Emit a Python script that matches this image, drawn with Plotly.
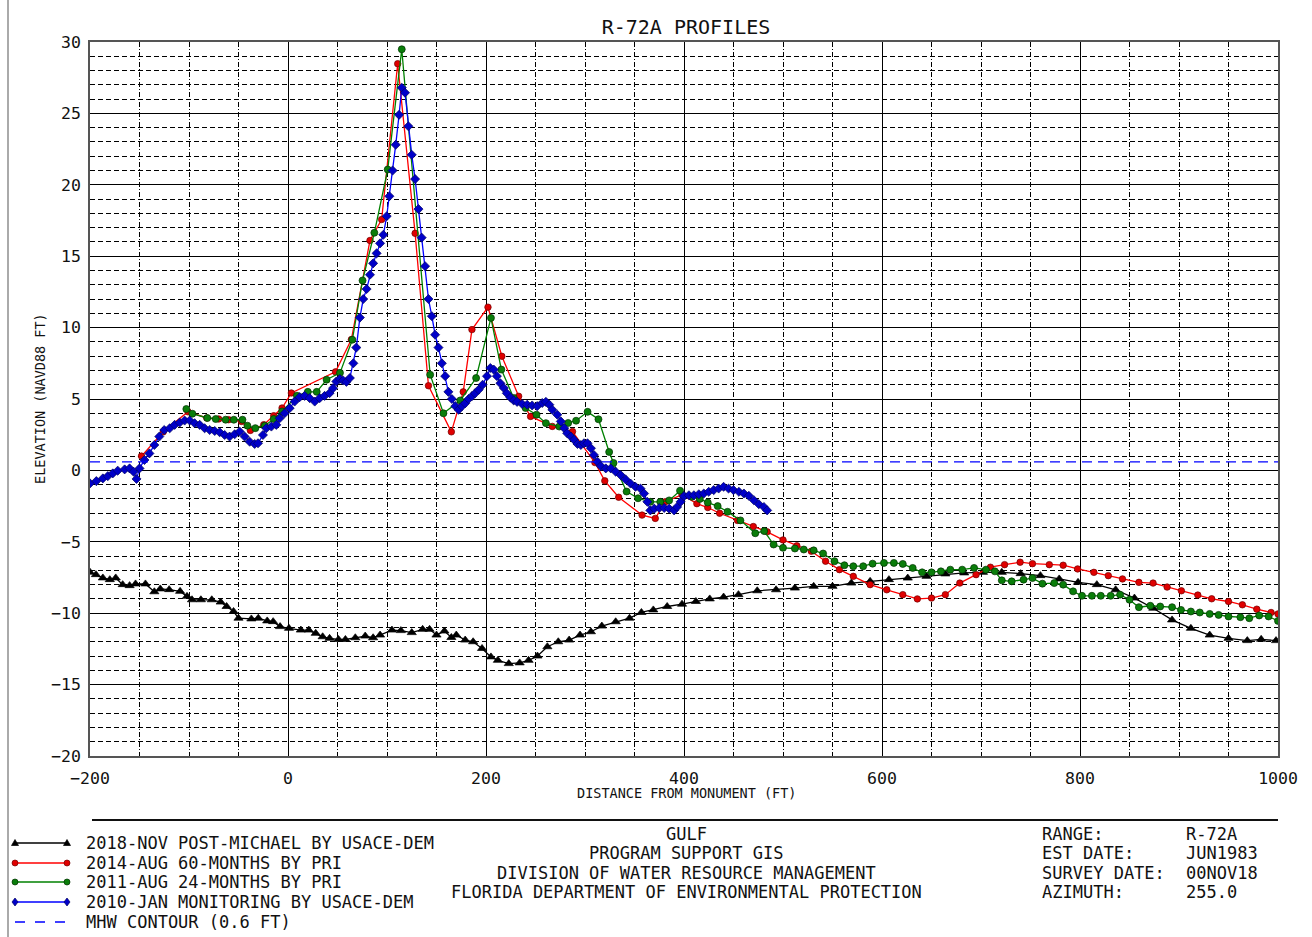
import plotly.graph_objects as go

# ---------------- data ----------------
black_x = [-200, -194, -187, -180, -174, -167, -160, -154, -144, -135, -129, -120, -109, -102, -97, -88, -77, -68,
           -62, -55, -50, -37, -30, -21, -15, -8, 1, 13, 21, 28, 35, 42, 51, 58, 68, 78, 86, 93, 105, 114, 125, 136,
           143, 150, 158, 165, 170, 179, 187, 196, 205, 212, 223, 234, 243, 252, 262, 273, 284, 295, 306, 317, 331,
           345, 357, 369, 383, 398, 412, 426, 440, 455, 474, 493, 512, 531, 550, 569, 588, 607, 626, 645, 664, 683,
           702, 721, 740, 760, 779, 798, 817, 836, 855, 874, 893, 912, 931, 950, 969, 983, 998]
black_y = [-7.13, -7.3, -7.53, -7.65, -7.53, -8.0, -8.07, -7.95, -7.95, -8.5, -8.3, -8.35, -8.47, -8.82, -9.06, -9.06,
           -9.06, -9.22, -9.53, -9.88, -10.35, -10.4, -10.35, -10.54, -10.59, -10.94, -11.06, -11.18, -11.18, -11.41,
           -11.65, -11.76, -11.84, -11.84, -11.72, -11.6, -11.72, -11.53, -11.18, -11.22, -11.36, -11.13, -11.13,
           -11.53, -11.25, -11.7, -11.53, -11.88, -12.0, -12.47, -13.06, -13.3, -13.53, -13.48, -13.3, -13.0, -12.35,
           -12.0, -11.88, -11.53, -11.3, -10.9, -10.6, -10.35, -9.95, -9.77, -9.53, -9.37, -9.18, -9.0, -8.87, -8.7,
           -8.43, -8.36, -8.24, -8.12, -8.12, -7.89, -7.77, -7.65, -7.54, -7.42, -7.25, -7.18, -7.14, -7.14, -7.23,
           -7.37, -7.6, -7.84, -8.0, -8.36, -8.94, -9.65, -10.47, -11.06, -11.53, -11.76, -11.92, -11.83, -11.92]

red_x = [-148, -126, -101, -82, -70, -60, -47, -38, -24.5, -14.4, -6, 3.4, 48, 64, 82.8, 94.6, 110.8, 128.4, 141.9,
         165, 177, 185.8, 202, 216, 233, 245, 267, 287.4, 310, 320, 334, 357.6, 371, 381, 398, 413, 424, 436, 454,
         470, 484, 500, 514, 528.6, 543, 557, 571, 588, 604.8, 621, 635.7, 650, 664, 678.6, 695, 709.5, 723.8,
         739.5, 752, 769, 783, 797.6, 814, 828.6, 842.9, 859.5, 873.8, 888, 902.4, 919, 933, 950, 964, 978.6, 993,
         1000]
red_y = [1.0, 2.7, 4.1, 3.67, 3.6, 3.55, 3.43, 2.8, 3.2, 3.83, 4.37, 5.42, 6.9, 9.16, 16.1, 17.57, 28.48, 16.6, 5.93,
         2.7, 5.5, 9.86, 11.43, 7.99, 5.19, 3.78, 3.08, 2.72, 0.55, -0.73, -1.88, -3.13, -3.36, -2.2, -1.7, -2.33,
         -2.6, -3.0, -3.5, -3.93, -4.3, -4.87, -5.28, -5.66, -6.36, -6.95, -7.42, -8.0, -8.36, -8.7, -9.0, -8.94,
         -8.7, -7.89, -7.3, -6.78, -6.6, -6.43, -6.53, -6.6, -6.64, -6.9, -7.14, -7.37, -7.6, -7.84, -7.89, -8.17,
         -8.43, -8.73, -8.99, -9.18, -9.41, -9.72, -9.95, -10.05]

green_x = [-102.7, -96.6, -81.5, -73, -63, -54.7, -46, -41, -33, -23.5, -14.4, -6, 9, 20, 29, 39, 52.5, 65, 75.3,
           87.2, 100.7, 114.9, 143.6, 157, 174, 190, 205, 215.5, 228, 240, 251, 260.5, 274, 283, 291, 302.6, 313.6,
           324.4, 328.8, 342, 353.6, 366, 376, 385, 396, 408, 416, 424, 434, 444, 457, 472, 481, 490.5, 500, 512,
           521, 531, 540.5, 552, 562, 571, 581, 590.5, 602, 612, 621, 631, 640.5, 650, 659.5, 669, 681, 693, 705,
           714, 721, 731, 743, 752, 762, 774, 783, 793, 802, 812, 821, 831, 840.5, 850, 859.5, 871, 881, 893, 902,
           912, 921, 931, 940, 950, 962, 971, 981, 990.5, 1000]
green_y = [4.3, 3.97, 3.67, 3.6, 3.55, 3.55, 3.55, 3.13, 2.96, 3.13, 3.6, 4.13, 5.23, 5.5, 5.5, 6.35, 6.83, 9.15,
           13.3, 16.64, 21.07, 29.49, 6.7, 4.0, 4.9, 6.47, 10.68, 7.06, 5.07, 4.37, 3.9, 3.31, 3.07, 3.32, 3.48, 4.1,
           3.58, 1.29, 0.52, -1.48, -1.95, -2.2, -2.2, -2.1, -1.42, -1.85, -2.0, -2.25, -2.5, -2.9, -3.5, -4.4,
           -4.25, -5.19, -5.42, -5.47, -5.54, -5.6, -5.82, -6.36, -6.64, -6.71, -6.71, -6.53, -6.48, -6.48, -6.55,
           -6.83, -7.14, -7.14, -7.07, -6.95, -6.95, -6.83, -6.95, -7.07, -7.7, -7.77, -7.65, -7.54, -7.93, -7.89,
           -8.0, -8.47, -8.78, -8.78, -8.78, -8.78, -8.7, -9.06, -9.58, -9.48, -9.53, -9.58, -9.77, -9.88, -9.95,
           -10.05, -10.12, -10.23, -10.28, -10.35, -10.16, -10.23, -10.54]

blue_x = [-200, -193.6, -187, -182, -177, -172, -165, -160, -156, -153, -150, -145, -140, -135, -130, -125, -119.5,
          -114.5, -109.4, -104.4, -99.3, -94.3, -89.2, -84.2, -79.1, -74, -69, -64, -59, -53.9, -48.8, -43.8, -38.7,
          -33.7, -30.3, -25.3, -21.9, -16.8, -11.8, -8.4, -3.4, 1.7, 6.7, 11.8, 16.8, 21.9, 27, 32, 37, 42, 45.5,
          48.8, 52.4, 55.7, 59, 62.5, 66, 69, 72.6, 76, 79.4, 82.8, 86, 89.5, 93, 96.3, 99.7, 102.4, 105.7, 108.8,
          112.2, 114.9, 118.2, 121.6, 125, 128.4, 131.8, 135, 138.5, 141.9, 145.3, 148.6, 152, 155.4, 158.8, 162,
          165.5, 169, 172.3, 175.7, 179, 182.4, 185.8, 189, 192.6, 196.6, 201, 204.4, 207.8, 211, 214.5, 218, 221,
          224.7, 228, 231.4, 236.5, 241.6, 246.6, 251.7, 256.8, 260.5, 264, 267, 272, 275.6, 279, 282, 285.7, 289,
          292.4, 295.8, 299, 302.5, 306, 309, 312.6, 316, 321, 326, 331, 336, 341, 346, 351, 356, 359.7, 363, 366,
          370, 375, 380, 385, 390, 393, 396.6, 400, 405, 410, 415, 420, 425, 430, 435, 440, 445, 450, 455.5, 460.5,
          465.5, 470.6, 475.6, 480.7, 484]
blue_y = [-0.91, -0.75, -0.56, -0.4, -0.21, -0.02, 0.07, 0.14, -0.09, -0.6, 0.14, 0.73, 1.19, 1.78, 2.37, 2.83, 2.95,
          3.19, 3.35, 3.49, 3.49, 3.3, 3.19, 2.95, 2.83, 2.76, 2.67, 2.48, 2.37, 2.53, 2.72, 2.37, 2.01, 1.85, 1.9,
          2.48, 2.95, 3.07, 3.19, 3.65, 4.0, 4.36, 4.82, 5.13, 5.22, 5.06, 4.82, 5.06, 5.22, 5.41, 5.76, 6.23, 6.4,
          6.3, 6.2, 6.47, 7.5, 8.6, 10.7, 12.0, 12.7, 13.7, 14.5, 15.2, 15.9, 16.5, 17.8, 19.2, 21.0, 22.8, 24.9,
          26.8, 26.45, 24.1, 22.1, 20.4, 18.3, 16.3, 14.3, 12.0, 10.8, 9.5, 8.6, 7.5, 6.6, 5.5, 5.0, 4.5, 4.25, 4.5,
          4.7, 5.0, 5.2, 5.4, 5.65, 6.0, 6.6, 7.17, 7.06, 6.6, 6.1, 5.77, 5.4, 5.1, 4.9, 4.8, 4.65, 4.6, 4.55, 4.5,
          4.72, 4.8, 4.6, 4.25, 3.9, 3.43, 2.96, 2.6, 2.37, 2.14, 1.85, 1.78, 1.9, 1.9, 1.55, 1.08, 0.61, 0.3, 0.14,
          0.14, -0.09, -0.33, -0.63, -0.92, -1.15, -1.27, -1.62, -2.2, -2.8, -2.68, -2.63, -2.63, -2.68, -2.8,
          -2.56, -2.2, -1.8, -1.74, -1.74, -1.67, -1.62, -1.5, -1.38, -1.27, -1.15, -1.27, -1.38, -1.5, -1.62,
          -1.78, -2.09, -2.37, -2.56, -2.8]

mhw_level = 0.6
x_range = [-200, 1000]
y_range = [-20, 30]

series_names = ["2018-NOV POST-MICHAEL BY USACE-DEM", "2014-AUG 60-MONTHS BY PRI",
                "2011-AUG 24-MONTHS BY PRI", "2010-JAN MONITORING BY USACE-DEM"]
mhw_name = "MHW CONTOUR (0.6 FT)"
title_text = "R-72A PROFILES"
x_title = "DISTANCE FROM MONUMENT (FT)"
y_title = "ELEVATION (NAVD88 FT)"
center_lines = ["GULF", "PROGRAM SUPPORT GIS", "DIVISION OF WATER RESOURCE MANAGEMENT",
                "FLORIDA DEPARTMENT OF ENVIRONMENTAL PROTECTION"]
info_labels = ["RANGE:", "EST DATE:", "SURVEY DATE:", "AZIMUTH:"]
info_values = ["R-72A", "JUN1983", "00NOV18", "255.0"]

# ---------------- styles ----------------
MONO = "DejaVu Sans Mono"
styles = [
    dict(color="#000000", fill="#000000", edge="#000000", symbol="triangle-up", size=8),
    dict(color="#ff0000", fill="#e00000", edge="#700000", symbol="circle", size=6.5),
    dict(color="#008000", fill="#0a7d0a", edge="#003000", symbol="circle", size=7),
    dict(color="#0000ff", fill="#0000c8", edge="#000060", symbol="diamond", size=7),
]
data = [(black_x, black_y), (red_x, red_y), (green_x, green_y), (blue_x, blue_y)]

W, H = 1312, 937
L, R, T, B = 90, 34, 42, 181
PW, PH = W - L - R, H - T - B


def px2x(px):
    return (px - L) / PW


def py2y(py):
    return (H - B - py) / PH


fig = go.Figure()
for (xs, ys), st, nm in zip(data, styles, series_names):
    assert len(xs) == len(ys), nm
    fig.add_trace(go.Scatter(
        x=xs, y=ys, mode="lines+markers", name=nm, showlegend=False,
        line=dict(color=st["color"], width=1.3),
        marker=dict(symbol=st["symbol"], size=st["size"], color=st["fill"],
                    line=dict(color=st["edge"], width=0.7)),
    ))

fig.add_trace(go.Scatter(
    x=x_range, y=[mhw_level, mhw_level], mode="lines", name=mhw_name, showlegend=False,
    line=dict(color="#0000ff", width=1.3, dash="10px,6px"),
))

axis_common = dict(
    showgrid=True, gridcolor="#000000", gridwidth=1,
    zeroline=False, showline=True, linecolor="#555555", linewidth=1.5, mirror=True,
    ticks="", tickfont=dict(family=MONO, size=16.5, color="#111111"),
)
fig.update_xaxes(range=x_range, tick0=0, dtick=200, ticklabelstandoff=6,
                 minor=dict(dtick=50, showgrid=True, gridcolor="#000000", gridwidth=1,
                            griddash="5px,2px,1px,2px"),
                 **axis_common)
fig.update_yaxes(range=y_range, tick0=0, dtick=5, ticklabelstandoff=4,
                 minor=dict(dtick=1, showgrid=True, gridcolor="#000000", gridwidth=1,
                            griddash="5px,3px"),
                 **axis_common)

shapes = []
annotations = []

# separator line and left frame line
shapes.append(dict(type="line", xref="paper", yref="paper", x0=px2x(92), x1=px2x(1278),
                   y0=py2y(820), y1=py2y(820), line=dict(color="#111111", width=2)))
shapes.append(dict(type="line", xref="paper", yref="paper", x0=px2x(8), x1=px2x(8),
                   y0=py2y(0), y1=py2y(H), line=dict(color="#aaaaaa", width=2)))

# legend (drawn manually: sample line with a marker at each end)
leg_rows = [843, 863, 882, 902, 922]
marker_paths = {
    "triangle-up": "M-3.5,-2.5 L3.5,-2.5 L0,3.5 Z",
    "circle": None,
    "diamond": "M0,4 L3,0 L0,-4 L-3,0 Z",
}
for i, (st, nm) in enumerate(zip(styles, series_names)):
    yy = py2y(leg_rows[i])
    shapes.append(dict(type="line", xref="paper", yref="paper", x0=px2x(15), x1=px2x(67),
                       y0=yy, y1=yy, line=dict(color=st["color"], width=1.3)))
    for ex in (15, 67):
        if st["symbol"] == "circle":
            shapes.append(dict(type="circle", xref="paper", yref="paper",
                               xsizemode="pixel", ysizemode="pixel", xanchor=px2x(ex), yanchor=yy,
                               x0=-3, x1=3, y0=-3, y1=3, fillcolor=st["fill"],
                               line=dict(color=st["edge"], width=0.7)))
        else:
            shapes.append(dict(type="path", xref="paper", yref="paper",
                               xsizemode="pixel", ysizemode="pixel", xanchor=px2x(ex), yanchor=yy,
                               path=marker_paths[st["symbol"]], fillcolor=st["fill"],
                               line=dict(color=st["edge"], width=0.7)))
    annotations.append(dict(text=nm, xref="paper", yref="paper", x=px2x(84), y=yy,
                            xanchor="left", yanchor="middle", showarrow=False,
                            font=dict(family=MONO, size=17, color="#111111")))
yy = py2y(leg_rows[4])
shapes.append(dict(type="line", xref="paper", yref="paper", x0=px2x(15), x1=px2x(67),
                   y0=yy, y1=yy, line=dict(color="#0000ff", width=1.3, dash="10px,10px")))
annotations.append(dict(text=mhw_name, xref="paper", yref="paper", x=px2x(84), y=yy,
                        xanchor="left", yanchor="middle", showarrow=False,
                        font=dict(family=MONO, size=17, color="#111111")))

# centre block
for i, t in enumerate(center_lines):
    annotations.append(dict(text=t, xref="paper", yref="paper", x=px2x(686), y=py2y(834 + 19.4 * i),
                            xanchor="center", yanchor="middle", showarrow=False,
                            font=dict(family=MONO, size=17, color="#111111")))
# right info block
for i, (lab, val) in enumerate(zip(info_labels, info_values)):
    yy = py2y(834 + 19.4 * i)
    annotations.append(dict(text=lab, xref="paper", yref="paper", x=px2x(1040), y=yy,
                            xanchor="left", yanchor="middle", showarrow=False,
                            font=dict(family=MONO, size=17, color="#111111")))
    annotations.append(dict(text=val, xref="paper", yref="paper", x=px2x(1184), y=yy,
                            xanchor="left", yanchor="middle", showarrow=False,
                            font=dict(family=MONO, size=17, color="#111111")))

# axis titles
annotations.append(dict(text=x_title, xref="paper", yref="paper", x=px2x(686), y=py2y(793),
                        xanchor="center", yanchor="middle", showarrow=False,
                        font=dict(family=MONO, size=13.5, color="#111111")))
annotations.append(dict(text=y_title, xref="paper", yref="paper", x=px2x(40), y=py2y(399),
                        xanchor="center", yanchor="middle", showarrow=False, textangle=-90,
                        font=dict(family=MONO, size=13.5, color="#111111")))

fig.update_layout(
    width=W, height=H,
    margin=dict(l=L, r=R, t=T, b=B, pad=0),
    paper_bgcolor="white", plot_bgcolor="white",
    showlegend=False,
    title=dict(text=title_text, x=686 / W, xanchor="center",
               y=1 - 27 / H, yanchor="middle",
               font=dict(family=MONO, size=20, color="#111111")),
    shapes=shapes, annotations=annotations,
)

fig.write_html("out.html", config={"displayModeBar": False},
               post_script="document.body.style.margin='0';")
